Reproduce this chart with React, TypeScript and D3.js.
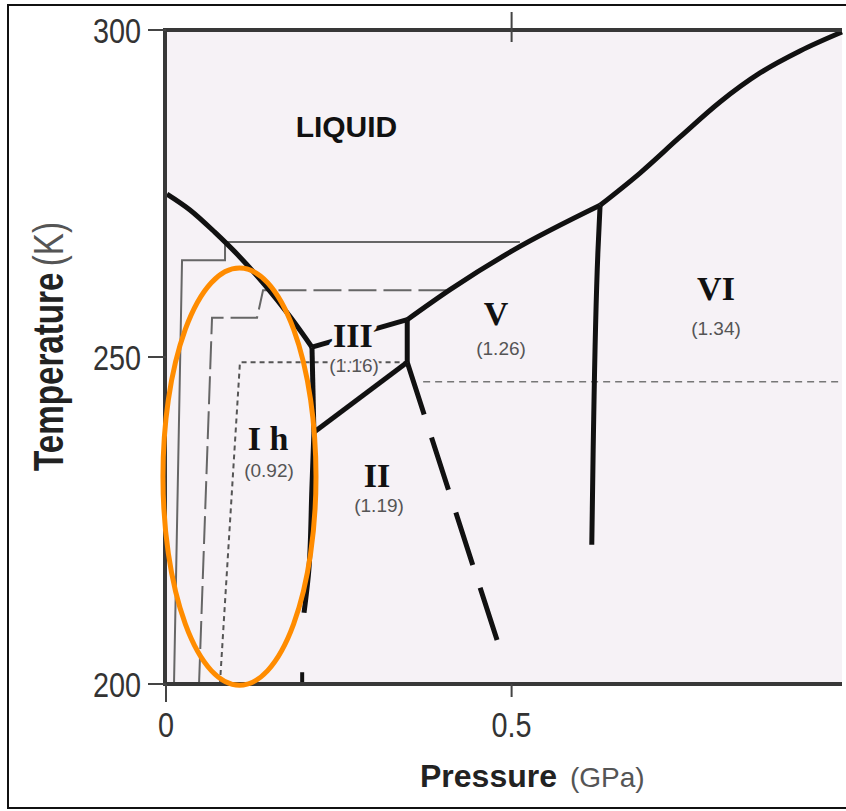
import React from "react";
import * as d3 from "d3";

// ---------- data (pressure GPa, temperature K) ----------
const meltIh: [number, number][] = [[0.0014, 274.92], [0.0347, 272.49], [0.0709, 269.05], [0.1071, 265.26], [0.1432, 260.98], [0.1794, 256.18], [0.2112, 251.5]];
const meltIII: [number, number][] = [[0.2112, 251.5], [0.349, 255.7]];
const meltV: [number, number][] = [[0.349, 255.7], [0.411, 260.3], [0.502, 266.3], [0.628, 273.2]];
const meltVI: [number, number][] = [[0.628, 273.2], [0.6858, 278.13], [0.7437, 283.64], [0.8015, 288.99], [0.8594, 293.43], [0.9172, 296.79], [0.978, 299.69]];
const bIhIII: [number, number][] = [[0.2112, 251.5], [0.214, 238.5]];
const bIhII: [number, number][] = [[0.214, 238.5], [0.211, 229.7], [0.207, 217.9], [0.1997, 210.9]];
const bIhIIext: [number, number][] = [[0.197, 201.8], [0.197, 200]];
const bIIIII: [number, number][] = [[0.214, 238.5], [0.349, 249.2]];
const bIIIV: [number, number][] = [[0.349, 249.2], [0.349, 255.7]];
const bIIV: [number, number][] = [[0.349, 249.2], [0.479, 206.7]];
const bVVI: [number, number][] = [[0.628, 273.2], [0.625, 266.4], [0.618, 235.8], [0.616, 221.3]];

const pathSolid: [number, number][] = [[0.0116, 200], [0.0232, 264.8], [0.0854, 264.8], [0.0854, 267.6], [0.512, 267.6]];
const pathDashed: [number, number][] = [[0.0478, 200], [0.0666, 256.0], [0.1317, 256.0], [0.1404, 260.2], [0.4125, 260.2]];
const pathDotted: [number, number][] = [[0.078, 200], [0.107, 249.2], [0.346, 249.2]];
const pathDotted2: [number, number][] = [[0.372, 246.2], [0.978, 246.2]];

const phaseNames = ["I h", "II", "III", "V", "VI"];
const phaseDensity = ["(0.92)", "(1.19)", "(1.16)", "(1.26)", "(1.34)"];
const phaseNamePos: [number, number][] = [[0.1476, 235.78], [0.3053, 230.12], [0.2705, 251.53], [0.4774, 254.89], [0.7957, 258.72]];
const phaseDensPos: [number, number][] = [[0.149, 231.65], [0.3082, 226.3], [0.272, 247.71], [0.4847, 250.31], [0.7957, 253.39]];
const liquidLabel = "LIQUID";
const liquidPos: [number, number] = [0.2611, 283.64];

const yTicks = [200, 250, 300];
const xTicks = [0, 0.5];
const xTickLabels = ["0", "0.5"];

// annotation ellipse (data units)
const ellipseCenter: [number, number] = [0.1063, 231.7];
const ellipseRadius: [number, number] = [0.1107, 31.9];

const W = 846, H = 811;
const BG = "#f6f2f6";

export default function App() {
  const x = d3.scaleLinear().domain([0, 0.978]).range([166, 842]);
  const y = d3.scaleLinear().domain([200, 300]).range([684, 30]);
  const line = d3.line<[number, number]>().x(d => x(d[0])).y(d => y(d[1]));
  const smoothX = d3.line<[number, number]>().x(d => x(d[0])).y(d => y(d[1])).curve(d3.curveMonotoneX);
  const smoothY = d3.line<[number, number]>().x(d => x(d[0])).y(d => y(d[1])).curve(d3.curveMonotoneY);

  const thick = { fill: "none", stroke: "#111", strokeWidth: 5, strokeLinejoin: "round" as const };
  const thin = { fill: "none", stroke: "#666", strokeWidth: 2 };

  const [x0, x1] = x.range();
  const [yb, yt] = y.range();

  return (
    <svg width={W} height={H} style={{ position: "absolute", left: 0, top: 0, background: "#fff" }}>
      <rect x={8} y={5} width={860} height={803} fill="#fff" stroke="#111" strokeWidth={2} />
      <rect x={x0} y={yt} width={x1 - x0} height={yb - yt} fill={BG} />

      {/* experimental paths */}
      <path d={line(pathSolid)!} {...thin} />
      <path d={line(pathDashed)!} {...thin} strokeDasharray="28 7" />
      <path d={line(pathDotted)!} fill="none" stroke="#555" strokeWidth={2} strokeDasharray="5 4" />
      <path d={line(pathDotted2)!} fill="none" stroke="#777" strokeWidth={1.5} strokeDasharray="7 5" />

      {/* phase boundaries */}
      <path d={smoothX(meltIh)!} {...thick} />
      <path d={line(meltIII)!} {...thick} />
      <path d={smoothX(meltV)!} {...thick} />
      <path d={smoothX(meltVI)!} {...thick} />
      <path d={line(bIhIII)!} {...thick} />
      <path d={smoothY(bIhII.slice().reverse())!} {...thick} />
      <path d={line(bIhIIext)!} {...thick} strokeWidth={4} />
      <path d={line(bIIIII)!} {...thick} />
      <path d={line(bIIIV)!} {...thick} />
      <path d={line(bIIV)!} {...thick} strokeLinejoin="miter" strokeDasharray="55 24" />
      <path d={smoothY(bVVI.slice().reverse())!} {...thick} />

      {/* labels */}
      <text x={x(liquidPos[0])} y={y(liquidPos[1])} textAnchor="middle" fontFamily="Liberation Sans, Arial, sans-serif" fontWeight="bold" fontSize={30} fill="#111">{liquidLabel}</text>
      {phaseNames.map((n, i) => (
        <text key={n} x={x(phaseNamePos[i][0])} y={y(phaseNamePos[i][1])} textAnchor="middle"
          fontFamily="Liberation Serif, Times New Roman, serif" fontWeight="bold" fontSize={34} fill="#111"
          stroke={BG} strokeWidth={10} paintOrder="stroke" strokeLinejoin="round">{n}</text>
      ))}
      {phaseDensity.map((n, i) => (
        <text key={n} x={x(phaseDensPos[i][0])} y={y(phaseDensPos[i][1])} textAnchor="middle"
          fontFamily="Liberation Sans, Arial, sans-serif" fontSize={19} fill="#555"
          stroke={BG} strokeWidth={4} paintOrder="stroke">{n}</text>
      ))}

      {/* axes */}
      <line x1={x0} x2={x1} y1={yt} y2={yt} stroke="#383838" strokeWidth={4} />
      <line x1={x0 - 2} x2={x1} y1={yb} y2={yb} stroke="#383838" strokeWidth={4} />
      <line x1={x0 - 1} x2={x0 - 1} y1={yt - 2} y2={yb + 2} stroke="#383838" strokeWidth={4} />
      {yTicks.map(t => (
        <g key={t}>
          <line x1={148} x2={x0} y1={y(t)} y2={y(t)} stroke="#444" strokeWidth={2} />
          <text transform={`translate(141,${y(t) + 13}) scale(0.8,1)`} textAnchor="end"
            fontFamily="Liberation Sans, Arial, sans-serif" fontSize={36} fill="#333">{t}</text>
        </g>
      ))}
      {xTicks.map((t, i) => (
        <g key={t}>
          <line x1={x(t)} x2={x(t)} y1={yb} y2={t === 0 ? yb + 18 : yb + 13} stroke="#444" strokeWidth={2} />
          {t !== 0 && <line x1={x(t)} x2={x(t)} y1={yt - 18} y2={yt + 12} stroke="#444" strokeWidth={2} />}
          <text transform={`translate(${x(t)},${737}) scale(0.8,1)`} textAnchor="middle"
            fontFamily="Liberation Sans, Arial, sans-serif" fontSize={36} fill="#333">{xTickLabels[i]}</text>
        </g>
      ))}

      {/* axis titles */}
      <text x={420} y={787} fontFamily="Liberation Sans, Arial, sans-serif" fontSize={32} fill="#222">
        <tspan fontWeight="bold">Pressure</tspan>
        <tspan dx={13} fontSize={28} fill="#555">(GPa)</tspan>
      </text>
      <text transform="translate(63,346.5) rotate(-90) scale(0.79,1)" textAnchor="middle"
        fontFamily="Liberation Sans, Arial, sans-serif" fontSize={42} fill="#222">
        <tspan fontWeight="bold">Temperature</tspan>
        <tspan dx={8} fill="#555">(K)</tspan>
      </text>

      {/* annotation ellipse */}
      <ellipse cx={x(ellipseCenter[0])} cy={y(ellipseCenter[1])}
        rx={x(ellipseRadius[0]) - x(0)} ry={y(200) - y(200 + ellipseRadius[1])}
        fill="none" stroke="#ff8c00" strokeWidth={5} />
    </svg>
  );
}
